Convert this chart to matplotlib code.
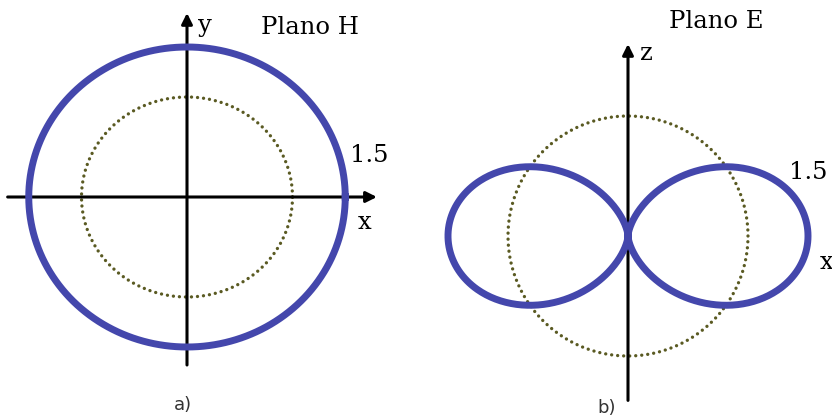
import numpy as np
import matplotlib.pyplot as plt

# radiation pattern values (relative units)
h_plane_gain = 1.5      # H-plane: omnidirectional
e_plane_gain = 1.5      # E-plane: 1.5 sin^2(theta)
ref_radius = 1.0        # isotropic reference (dotted)
h_label = "Plano H"
e_label = "Plano E"
gain_text = "1.5"

blue = "#4447AC"
olive = "#5A5A22"

theta = np.linspace(0, 2 * np.pi, 721)

fig = plt.figure(figsize=(8.32, 4.16), dpi=100)
axL = fig.add_axes([0, 0, 0.5, 1])
axR = fig.add_axes([0.5, 0, 0.5, 1])

arrow = dict(arrowstyle='-|>', lw=2.2, color='black', mutation_scale=16, shrinkA=0, shrinkB=0)
serif = dict(family='DejaVu Serif', fontsize=17.5)
dots = dict(color=olive, lw=2.4, linestyle=(0, (0.01, 1.8)), dash_capstyle='round', zorder=2)

# --- a) H plane ---
axL.set_xlim(-187 / 105.5, 229 / 105.5)
axL.set_ylim(-2.19, 1.97)
axL.annotate('', xy=(1.80, 0), xytext=(-1.70, 0), arrowprops=arrow)
axL.annotate('', xy=(0, 1.84), xytext=(0, -1.68), arrowprops=arrow)
axL.plot(h_plane_gain * np.cos(theta), h_plane_gain * np.sin(theta), color=blue, lw=5, zorder=3)
axL.plot(ref_radius * np.cos(theta), ref_radius * np.sin(theta), **dots)
axL.text(0.10, 1.72, "y", ha='left', va='center', **serif)
axL.text(1.17, 1.70, h_label, ha='center', va='center', **serif)
axL.text(1.62, -0.25, "x", ha='left', va='center', **serif)
axL.text(1.73, 0.42, gain_text, ha='center', va='center', **serif)
axL.text(-0.04, -2.08, "a)", ha='center', va='center', fontsize=13, color='#333333')

# --- b) E plane ---
axR.set_xlim(-212 / 120, 204 / 120)
axR.set_ylim(-1.5, 236 / 120)
axR.annotate('', xy=(1.75, 0), xytext=(-1.70, 0), arrowprops=arrow)
axR.annotate('', xy=(0, 1.60), xytext=(0, -1.37), arrowprops=arrow)
r = e_plane_gain * np.sin(theta) ** 2
axR.plot(r * np.sin(theta), r * np.cos(theta), color=blue, lw=5, zorder=3)
axR.plot(ref_radius * np.cos(theta), ref_radius * np.sin(theta), **dots)
axR.text(0.10, 1.52, "z", ha='left', va='center', **serif)
axR.text(0.74, 1.79, e_label, ha='center', va='center', **serif)
axR.text(1.60, -0.22, "x", ha='left', va='center', **serif)
axR.text(1.50, 0.53, gain_text, ha='center', va='center', **serif)
axR.text(-0.18, -1.43, "b)", ha='center', va='center', fontsize=13, color='#333333')

for ax in (axL, axR):
    ax.axis('off')

fig.savefig("out.png", dpi=100)
